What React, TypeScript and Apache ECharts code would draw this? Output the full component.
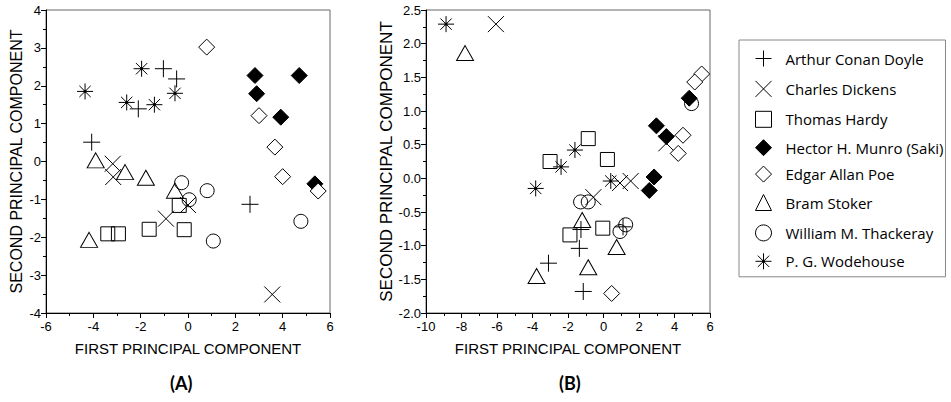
import React, { useEffect, useRef } from "react";
import * as echarts from "echarts";

const authors = [
  "Arthur Conan Doyle",
  "Charles Dickens",
  "Thomas Hardy",
  "Hector H. Munro (Saki)",
  "Edgar Allan Poe",
  "Bram Stoker",
  "William M. Thackeray",
  "P. G. Wodehouse",
];

// Panel (A)
const doyleA = [[-1.04, 2.45], [-0.48, 2.18], [-2.1, 1.39], [-4.07, 0.51], [2.62, -1.13]];
const dickensA = [[-3.18, -0.06], [-3.16, -0.41], [-0.93, -1.51], [0.0, -1.15], [3.56, -3.51]];
const hardyA = [[-0.37, -1.16], [-3.39, -1.91], [-2.94, -1.91], [-1.64, -1.79], [-0.16, -1.8]];
const sakiA = [[2.83, 2.27], [4.7, 2.27], [2.9, 1.79], [3.92, 1.17], [5.36, -0.59]];
const poeA = [[0.79, 3.02], [3.0, 1.21], [3.67, 0.38], [4.0, -0.4], [5.5, -0.78]];
const stokerA = [[-3.9, 0.03], [-2.66, -0.28], [-1.78, -0.43], [-0.55, -0.77], [-4.18, -2.07]];
const thackerayA = [[-0.27, -0.56], [0.05, -1.01], [0.81, -0.77], [1.07, -2.1], [4.77, -1.58]];
const wodehouseA = [[-4.35, 1.85], [-1.96, 2.45], [-2.59, 1.56], [-1.42, 1.5], [-0.55, 1.8]];

// Panel (B)
const doyleB = [[-1.27, -0.76], [-1.36, -1.04], [-3.1, -1.26], [-1.14, -1.68], [1.1, -0.72]];
const dickensB = [[-6.06, 2.29], [3.54, 0.52], [0.93, -0.07], [1.53, -0.04], [-0.57, -0.28]];
const hardyB = [[-0.86, 0.59], [-3.01, 0.25], [0.22, 0.28], [-0.04, -0.74], [-1.89, -0.84]];
const sakiB = [[4.83, 1.19], [2.98, 0.78], [3.54, 0.62], [2.85, 0.02], [2.58, -0.18]];
const poeB = [[5.53, 1.55], [5.14, 1.43], [4.48, 0.64], [4.21, 0.37], [0.46, -1.71]];
const stokerB = [[-7.8, 1.86], [-1.2, -0.62], [0.74, -1.02], [-0.86, -1.32], [-3.77, -1.45]];
const thackerayB = [[4.96, 1.11], [-1.29, -0.35], [-0.86, -0.35], [1.25, -0.69], [0.93, -0.79]];
const wodehouseB = [[-8.87, 2.29], [-1.61, 0.42], [-2.39, 0.17], [-3.82, -0.15], [0.41, -0.04]];

const panelA = [doyleA, dickensA, hardyA, sakiA, poeA, stokerA, thackerayA, wodehouseA];
const panelB = [doyleB, dickensB, hardyB, sakiB, poeB, stokerB, thackerayB, wodehouseB];

const xTitle = "FIRST PRINCIPAL COMPONENT";
const yTitle = "SECOND PRINCIPAL COMPONENT";

const PLUS = "path://M0,8L16,8M8,0L8,16";
const CROSS = "path://M0,0L16,16M16,0L0,16";
const STAR =
  "path://M0,8L16,8M8,0L8,16M2.34,2.34L13.66,13.66M13.66,2.34L2.34,13.66M7.1,7.1L8.9,7.1L8.9,8.9L7.1,8.9Z";

const markerStyles: any[] = [
  { symbol: PLUS, size: 17, fill: "none" },
  { symbol: CROSS, size: 16, fill: "none" },
  { symbol: "rect", size: 14, fill: "none" },
  { symbol: "diamond", size: 16, fill: "#000" },
  { symbol: "diamond", size: 16, fill: "#fff" },
  { symbol: "triangle", size: [17, 15], fill: "none" },
  { symbol: "circle", size: 14, fill: "none" },
  { symbol: STAR, size: 16, fill: "#000" },
];

const FONT = "'Liberation Sans', Arial, sans-serif";
const LEGEND_FONT = "'Open Sans', Lato, sans-serif";

function xAxis(gridIndex: number, min: number, max: number) {
  return {
    type: "value",
    gridIndex,
    min,
    max,
    interval: 2,
    name: xTitle,
    nameLocation: "middle",
    nameGap: 28,
    nameTextStyle: { fontSize: 15, color: "#000", fontFamily: FONT },
    axisLine: { show: true, onZero: false, lineStyle: { color: "#000", width: 1 } },
    axisTick: { show: true, inside: false, length: 5, lineStyle: { color: "#000" } },
    minorTick: { show: true, splitNumber: 2, length: 3, lineStyle: { color: "#000" } },
    splitLine: { show: false },
    axisLabel: { color: "#000", fontSize: 13, fontFamily: FONT, margin: 7 },
  };
}

function yAxis(gridIndex: number, min: number, max: number, interval: number, gap: number, size: number, dec: number) {
  return {
    type: "value",
    gridIndex,
    min,
    max,
    interval,
    name: yTitle,
    nameLocation: "middle",
    nameGap: gap,
    nameTextStyle: { fontSize: size, color: "#000", fontFamily: FONT },
    axisLine: { show: true, onZero: false, lineStyle: { color: "#000", width: 1 } },
    axisTick: { show: true, inside: false, length: 5, lineStyle: { color: "#000" } },
    minorTick: { show: true, splitNumber: 2, length: 3, lineStyle: { color: "#000" } },
    splitLine: { show: false },
    axisLabel: {
      color: "#000",
      fontSize: 13,
      fontFamily: FONT,
      margin: 5,
      formatter: (v: number) => v.toFixed(dec),
    },
  };
}

export default function App() {
  const ref = useRef<HTMLDivElement>(null);
  useEffect(() => {
    document.body.style.margin = "0";
    if (!ref.current) return;
    const chart = echarts.init(ref.current, undefined, { renderer: "svg" });
    const series: any[] = [];
    [panelA, panelB].forEach((panel, gi) => {
      panel.forEach((data, i) => {
        const m = markerStyles[i];
        series.push({
          type: "scatter",
          name: authors[i],
          xAxisIndex: gi,
          yAxisIndex: gi,
          data,
          symbol: m.symbol,
          symbolSize: m.size,
          itemStyle: { color: m.fill, borderColor: "#000", borderWidth: 1, opacity: 1 },
          emphasis: { disabled: true },
        });
      });
    });
    chart.setOption({
      animation: false,
      grid: [
        { left: 46, top: 10, width: 284, height: 303, show: true, borderColor: "#666", borderWidth: 1, containLabel: false },
        { left: 426, top: 10, width: 284, height: 303, show: true, borderColor: "#666", borderWidth: 1, containLabel: false },
      ],
      xAxis: [xAxis(0, -6, 6), xAxis(1, -10, 6)],
      yAxis: [yAxis(0, -4, 4, 1, 22, 16, 0), yAxis(1, -2, 2.5, 0.5, 18, 17, 1)],
      legend: {
        data: authors,
        orient: "vertical",
        left: 739,
        top: 40,
        itemWidth: 16,
        itemHeight: 16,
        itemGap: 9.4,
        padding: [8, 2, 7, 14],
        borderColor: "#888",
        borderWidth: 1,
        selectedMode: false,
        itemStyle: { borderWidth: 1, borderColor: "#000" },
        textStyle: {
          fontSize: 15,
          color: "#000",
          fontFamily: LEGEND_FONT,
          padding: [0, 0, 0, 9],
        },
      },
      graphic: [
        {
          type: "text",
          left: 170,
          top: 374,
          style: { text: "(A)", fill: "#000", font: "bold 18px Lato, 'Open Sans', sans-serif" },
        },
        {
          type: "text",
          left: 559,
          top: 374,
          style: { text: "(B)", fill: "#000", font: "bold 18px Lato, 'Open Sans', sans-serif" },
        },
      ],
      series,
    });
    return () => chart.dispose();
  }, []);
  return <div ref={ref} style={{ width: 951, height: 402 }} />;
}
